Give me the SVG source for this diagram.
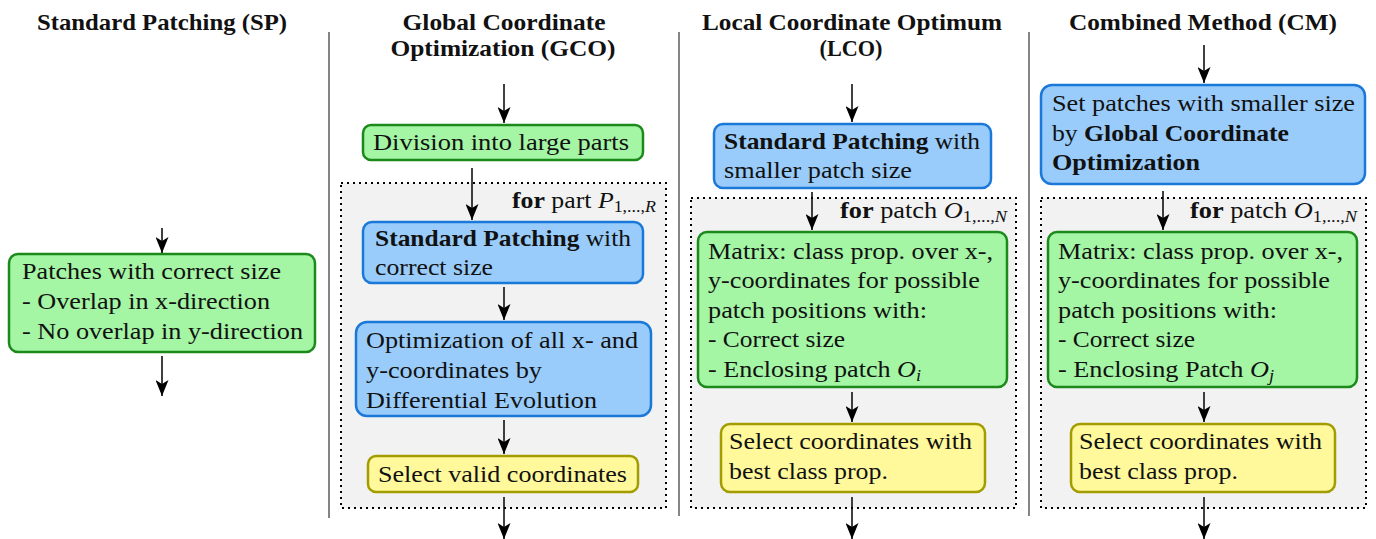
<svg xmlns="http://www.w3.org/2000/svg" width="1376" height="539" viewBox="0 0 1376 539">
<style>
text{font-family:"Liberation Serif","Times New Roman",serif;font-size:23px;fill:#111}
.t{font-weight:bold;font-size:23px;text-anchor:middle}
.b{font-weight:bold}
.i{font-style:italic}
.g{fill:#a4f5a4;stroke:#1b8a1b;stroke-width:2.5}
.bl{fill:#99ccfb;stroke:#1a78d8;stroke-width:2.5}
.y{fill:#fff99c;stroke:#a39c00;stroke-width:2.5}
.c{fill:#f2f2f2;stroke:#000;stroke-width:2;stroke-dasharray:2 4}
.sep{stroke:#333;stroke-width:1.2}
.a{stroke:#000;stroke-width:1.5;fill:none;marker-end:url(#ah)}
</style>
<defs>
<marker id="ah" viewBox="0 0 16 13" refX="16" refY="6.5" markerWidth="16" markerHeight="13" markerUnits="userSpaceOnUse" orient="auto">
<path d="M0,0 L16,6.5 L0,13 L4,6.5 z" fill="#000"/>
</marker>
</defs>
<rect width="1376" height="539" fill="#fff"/>
<g id="separators">
<line class="sep" x1="329" y1="32" x2="329" y2="518"/>
<line class="sep" x1="679" y1="32" x2="679" y2="516"/>
<line class="sep" x1="1029" y1="32" x2="1029" y2="516"/>
</g>
<g id="titles">
<text class="t" x="162" y="30" textLength="250" lengthAdjust="spacingAndGlyphs">Standard Patching (SP)</text>
<text class="t" x="504" y="30" textLength="203" lengthAdjust="spacingAndGlyphs">Global Coordinate</text>
<text class="t" x="503" y="56" textLength="225" lengthAdjust="spacingAndGlyphs">Optimization (GCO)</text>
<text class="t" x="852" y="30" textLength="300" lengthAdjust="spacingAndGlyphs">Local Coordinate Optimum</text>
<text class="t" x="851" y="56" textLength="63" lengthAdjust="spacingAndGlyphs">(LCO)</text>
<text class="t" x="1203" y="30" textLength="268" lengthAdjust="spacingAndGlyphs">Combined Method (CM)</text>
</g>
<g id="containers">
<rect id="gco-loop" class="c" x="341" y="183" width="325" height="325"/>
<text x="512" y="208" textLength="144" lengthAdjust="spacingAndGlyphs"><tspan class="b">for</tspan> part <tspan class="i">P</tspan><tspan font-size="16" dy="4">1,...,</tspan><tspan font-size="16" class="i">R</tspan></text>
<rect id="lco-loop" class="c" x="691" y="198" width="325" height="310"/>
<text x="840" y="218" textLength="167" lengthAdjust="spacingAndGlyphs"><tspan class="b">for</tspan> patch <tspan class="i">O</tspan><tspan font-size="16" dy="4">1,...,</tspan><tspan font-size="16" class="i">N</tspan></text>
<rect id="cm-loop" class="c" x="1041" y="198" width="325" height="310"/>
<text x="1190" y="218" textLength="167" lengthAdjust="spacingAndGlyphs"><tspan class="b">for</tspan> patch <tspan class="i">O</tspan><tspan font-size="16" dy="4">1,...,</tspan><tspan font-size="16" class="i">N</tspan></text>
</g>
<g id="sp-box">
<rect class="g" x="9" y="254" width="306" height="98" rx="9"/>
<text x="22" y="279" textLength="259" lengthAdjust="spacingAndGlyphs">Patches with correct size</text>
<text x="22" y="309" textLength="248" lengthAdjust="spacingAndGlyphs">- Overlap in x-direction</text>
<text x="22" y="339" textLength="281" lengthAdjust="spacingAndGlyphs">- No overlap in y-direction</text>
</g>
<g id="gco-division">
<rect class="g" x="363" y="125" width="280" height="35" rx="8"/>
<text x="373" y="150" textLength="256" lengthAdjust="spacingAndGlyphs">Division into large parts</text>
</g>
<g id="gco-sp">
<rect class="bl" x="363" y="222" width="280" height="61" rx="9"/>
<text x="375" y="246" textLength="256" lengthAdjust="spacingAndGlyphs"><tspan class="b">Standard Patching</tspan> with</text>
<text x="375" y="275" textLength="118" lengthAdjust="spacingAndGlyphs">correct size</text>
</g>
<g id="gco-opt">
<rect class="bl" x="356" y="322" width="295" height="94" rx="11"/>
<text x="366" y="348" textLength="272" lengthAdjust="spacingAndGlyphs">Optimization of all x- and</text>
<text x="366" y="378" textLength="176" lengthAdjust="spacingAndGlyphs">y-coordinates by</text>
<text x="366" y="408" textLength="231" lengthAdjust="spacingAndGlyphs">Differential Evolution</text>
</g>
<g id="gco-select">
<rect class="y" x="368" y="456" width="270" height="36" rx="8"/>
<text x="378" y="482" textLength="249" lengthAdjust="spacingAndGlyphs">Select valid coordinates</text>
</g>
<g id="lco-sp">
<rect class="bl" x="714" y="124" width="277" height="64" rx="9"/>
<text x="724" y="149" textLength="256" lengthAdjust="spacingAndGlyphs"><tspan class="b">Standard Patching</tspan> with</text>
<text x="724" y="178" textLength="188" lengthAdjust="spacingAndGlyphs">smaller patch size</text>
</g>
<g id="lco-matrix">
<rect class="g" x="698" y="232" width="309" height="155" rx="9"/>
<text x="708" y="259" textLength="285" lengthAdjust="spacingAndGlyphs">Matrix: class prop. over x-,</text>
<text x="708" y="288" textLength="272" lengthAdjust="spacingAndGlyphs">y-coordinates for possible</text>
<text x="708" y="318" textLength="219" lengthAdjust="spacingAndGlyphs">patch positions with:</text>
<text x="708" y="347" textLength="137" lengthAdjust="spacingAndGlyphs">- Correct size</text>
<text x="708" y="377" textLength="213" lengthAdjust="spacingAndGlyphs">- Enclosing patch <tspan class="i">O</tspan><tspan class="i" font-size="16" dy="4">i</tspan></text>
</g>
<g id="lco-select">
<rect class="y" x="721" y="424" width="264" height="68" rx="9"/>
<text x="729" y="449" textLength="243" lengthAdjust="spacingAndGlyphs">Select coordinates with</text>
<text x="729" y="479" textLength="159" lengthAdjust="spacingAndGlyphs">best class prop.</text>
</g>
<g id="cm-set">
<rect class="bl" x="1041" y="85" width="324" height="99" rx="11"/>
<text x="1052" y="111" textLength="303" lengthAdjust="spacingAndGlyphs">Set patches with smaller size</text>
<text x="1052" y="141" textLength="237" lengthAdjust="spacingAndGlyphs">by <tspan class="b">Global Coordinate</tspan></text>
<text x="1052" y="170" class="b" textLength="148" lengthAdjust="spacingAndGlyphs">Optimization</text>
</g>
<g id="cm-matrix">
<rect class="g" x="1048" y="232" width="309" height="155" rx="9"/>
<text x="1058" y="259" textLength="285" lengthAdjust="spacingAndGlyphs">Matrix: class prop. over x-,</text>
<text x="1058" y="288" textLength="272" lengthAdjust="spacingAndGlyphs">y-coordinates for possible</text>
<text x="1058" y="318" textLength="219" lengthAdjust="spacingAndGlyphs">patch positions with:</text>
<text x="1058" y="347" textLength="137" lengthAdjust="spacingAndGlyphs">- Correct size</text>
<text x="1058" y="377" textLength="216" lengthAdjust="spacingAndGlyphs">- Enclosing Patch <tspan class="i">O</tspan><tspan class="i" font-size="16" dy="4">j</tspan></text>
</g>
<g id="cm-select">
<rect class="y" x="1071" y="424" width="264" height="68" rx="9"/>
<text x="1079" y="449" textLength="243" lengthAdjust="spacingAndGlyphs">Select coordinates with</text>
<text x="1079" y="479" textLength="159" lengthAdjust="spacingAndGlyphs">best class prop.</text>
</g>
<g id="connectors">
<line class="a" x1="162" y1="228" x2="162" y2="253"/>
<line class="a" x1="162" y1="356" x2="162" y2="396"/>
<line class="a" x1="504" y1="84" x2="504" y2="123"/>
<line class="a" x1="472" y1="168" x2="472" y2="220"/>
<line class="a" x1="504" y1="287" x2="504" y2="320"/>
<line class="a" x1="504" y1="420" x2="504" y2="454"/>
<line class="a" x1="504" y1="497" x2="504" y2="539"/>
<line class="a" x1="852" y1="84" x2="852" y2="122"/>
<line class="a" x1="812" y1="192" x2="812" y2="230"/>
<line class="a" x1="852" y1="392" x2="852" y2="422"/>
<line class="a" x1="852" y1="497" x2="852" y2="539"/>
<line class="a" x1="1204" y1="45" x2="1204" y2="83"/>
<line class="a" x1="1163" y1="191" x2="1163" y2="230"/>
<line class="a" x1="1204" y1="392" x2="1204" y2="422"/>
<line class="a" x1="1204" y1="497" x2="1204" y2="539"/>
</g>
</svg>
